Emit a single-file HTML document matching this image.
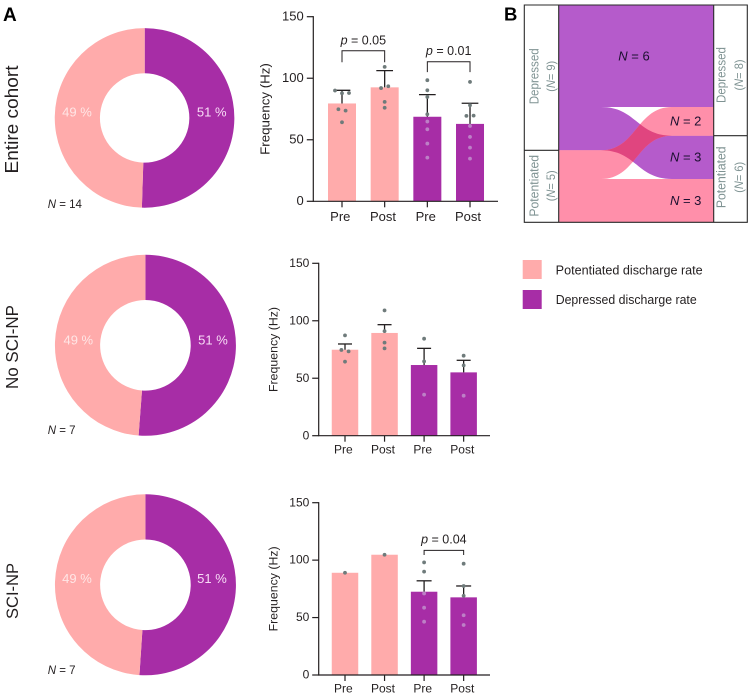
<!DOCTYPE html>
<html lang="en">
<head>
<meta charset="utf-8">
<title>Discharge rate figure</title>
<style>
html,body{margin:0;padding:0;background:#fff;width:750px;height:695px;overflow:hidden}
svg{display:block;font-family:"Liberation Sans",sans-serif;fill:#231f20}
</style>
</head>
<body>
<svg id="figure" xmlns="http://www.w3.org/2000/svg" width="750" height="695" viewBox="0 0 750 695">
  <rect x="0" y="0" width="750" height="695" fill="#fff"/>
  <text x="3" y="21" font-size="19" font-weight="bold" fill="#000">A</text>
  <text x="504" y="20.7" font-size="18.5" font-weight="bold" fill="#000">B</text>
  <text transform="translate(18 173.5) rotate(-90)" font-size="18.5" textLength="108" lengthAdjust="spacingAndGlyphs">Entire cohort</text>
  <text transform="translate(18 389) rotate(-90)" font-size="17.5" textLength="84" lengthAdjust="spacingAndGlyphs">No SCI-NP</text>
  <text transform="translate(18 619) rotate(-90)" font-size="17" textLength="56" lengthAdjust="spacingAndGlyphs">SCI-NP</text>
  <g id="donuts"></g>
  <g id="bars"></g>
  <g id="sankey"></g>
  <g>
    <rect x="522.7" y="260" width="19" height="19" fill="#ffabab"/>
    <text x="555.7" y="274.3" font-size="12.5" textLength="147" lengthAdjust="spacingAndGlyphs">Potentiated discharge rate</text>
    <rect x="522.7" y="290" width="19" height="19" fill="#a72da6"/>
    <text x="555.7" y="304" font-size="12.5" textLength="141" lengthAdjust="spacingAndGlyphs">Depressed discharge rate</text>
  </g>
</svg>
<script>
// ---- Donut data ----
const donutDepressedShare = [50.5, 51.2, 51.05];
const donutPrintedPotentiated = ['49 %', '49 %', '49 %'];
const donutPrintedDepressed = ['51 %', '51 %', '51 %'];
const donutSampleSizes = [14, 7, 7];

// ---- Bar chart data ----
const barCategories = ['Pre', 'Post', 'Pre', 'Post'];
const frequencyTicks = [0, 50, 100, 150];

const cohortMeans = [79.5, 92.6, 68.7, 62.9];
const cohortErrorTops = [90.2, 106.2, 86.7, 79.7];
const cohortPoints = [
  [90, 87.8, 88, 74.8, 73.7, 64.2],
  [109.2, 92, 93.5, 80.8, 76],
  [98.4, 90.2, 84.8, 70.7, 64.8, 58.5, 46.9, 35.5],
  [97, 78, 69.4, 69.6, 61.2, 52.3, 43.6, 34.7]
];
const cohortBracketFrom = [0, 2];
const cohortBracketTo = [1, 3];
const cohortBracketTop = [122.3, 113.4];
const cohortBracketEnd = [113, 105];
const cohortBracketLabels = ['0.05', '0.01'];

const noSciMeans = [74.8, 89.4, 61.5, 55.1];
const noSciErrorTops = [79.8, 96.6, 76, 65.6];
const noSciPoints = [
  [87.3, 74.6, 73.4, 64.4],
  [109, 91, 81, 76],
  [84.4, 64.7, 35.7],
  [69.6, 61.2, 34.8]
];
const noSciBracketFrom = [];
const noSciBracketTo = [];
const noSciBracketTop = [];
const noSciBracketEnd = [];
const noSciBracketLabels = [];

const sciMeans = [89, 104.7, 72.5, 67.6];
const sciErrorTops = [null, null, 82, 77.5];
const sciPoints = [
  [89],
  [104.7],
  [98, 90, 71, 58.6, 46.4],
  [96.9, 77.5, 69, 52, 43.5]
];
const sciBracketFrom = [2];
const sciBracketTo = [3];
const sciBracketTop = [108.5];
const sciBracketEnd = [104.5];
const sciBracketLabels = ['0.04'];

// ---- Sankey data ----
const sankeyLeftNames = ['Depressed', 'Potentiated'];
const sankeyLeftCounts = [9, 5];
const sankeyRightNames = ['Depressed', 'Potentiated'];
const sankeyRightCounts = [8, 6];
const flowFrom = [0, 0, 1, 1];
const flowTo = [0, 1, 0, 1];
const flowCounts = [6, 3, 2, 3];
const flowDrawnWeights = [6.57, 2.79, 1.85, 2.79];

const SVGNS = 'http://www.w3.org/2000/svg';
function mk(tag, parent) {
  const e = document.createElementNS(SVGNS, tag);
  parent.appendChild(e);
  return e;
}
function setAll(e, props) {
  for (const k in props) e.setAttribute(k, props[k]);
  return e;
}
const PINK = '#ffabab', PURPLE = '#a72da6', INK = '#231f20';

// ---------- Donuts ----------
const donutFrames = [
  {cx:144.7, cy:117.9, r:89.8, hole:44.7, lp:77, ld:211.7, base:116.5, nY:208},
  {cx:145.4, cy:345.3, r:90.5, hole:45.3, lp:78.3, ld:213, base:344.5, nY:434},
  {cx:145.4, cy:584.8, r:90.5, hole:45.3, lp:77, ld:212, base:583, nY:674}
];
function ringSlice(f, a0, a1) {
  const p = (r, a) => (f.cx + r * Math.sin(a)).toFixed(2) + ' ' + (f.cy - r * Math.cos(a)).toFixed(2);
  const large = (a1 - a0) > Math.PI ? 1 : 0;
  return 'M' + p(f.r, a0) + 'A' + f.r + ' ' + f.r + ' 0 ' + large + ' 1 ' + p(f.r, a1) +
         'L' + p(f.hole, a1) + 'A' + f.hole + ' ' + f.hole + ' 0 ' + large + ' 0 ' + p(f.hole, a0) + 'Z';
}
const donutRoot = document.getElementById('donuts');
donutDepressedShare.forEach(function (share, i) {
  const f = donutFrames[i];
  const split = 2 * Math.PI * share / 100;
  const dep = mk('path', donutRoot);
  
  
  setAll(dep, {d: ringSlice(f, 0, split), fill: PURPLE});
  const pot = mk('path', donutRoot);
  
  
  setAll(pot, {d: ringSlice(f, split, 2 * Math.PI), fill: PINK});
  const t1 = mk('text', donutRoot);
  
  
  setAll(t1, {x: f.lp, y: f.base, 'text-anchor': 'middle', 'font-size': 13, fill: '#ffe6e6'});
  t1.textContent = donutPrintedPotentiated[i];
  const t2 = mk('text', donutRoot);
  
  
  setAll(t2, {x: f.ld, y: f.base, 'text-anchor': 'middle', 'font-size': 13, fill: '#f8dcf6'});
  t2.textContent = donutPrintedDepressed[i];
  const n = mk('text', donutRoot);
  
  
  setAll(n, {x: 47.7, y: f.nY, 'font-size': 11.5});
  const ni = mk('tspan', n);
  ni.setAttribute('font-style', 'italic');
  ni.textContent = 'N';
  const nv = mk('tspan', n);
  nv.textContent = ' = ' + donutSampleSizes[i];
});

// ---------- Bar charts ----------
const barFrames = [
  {axisX:313.3, top:16.7, zero:201.3, right:498, first:342, step:42.67, width:28, cap:16.7, tickSize:13, labelRight:303.7,
   catX:[340.3,383,425.7,468], catY:221, titleX:269.5, titleLen:91.7, titleSize:13.3, pGap:6.5,
   means:cohortMeans, errs:cohortErrorTops, pts:cohortPoints,
   bf:cohortBracketFrom, bt:cohortBracketTo, btop:cohortBracketTop, bend:cohortBracketEnd, blab:cohortBracketLabels},
  {axisX:318.7, top:263.3, zero:435.7, right:490, first:345, step:39.55, width:26.5, cap:14, tickSize:12, labelRight:309.3,
   catX:[343.3,383,422.7,462.3], catY:453.3, titleX:277.5, titleLen:85, titleSize:12.3, pGap:6.5,
   means:noSciMeans, errs:noSciErrorTops, pts:noSciPoints,
   bf:noSciBracketFrom, bt:noSciBracketTo, btop:noSciBracketTop, bend:noSciBracketEnd, blab:noSciBracketLabels},
  {axisX:318.7, top:502.7, zero:675, right:490, first:345, step:39.55, width:26.5, cap:15, tickSize:12, labelRight:309.3,
   catX:[343.3,383,422.7,462.3], catY:692.3, titleX:277.5, titleLen:85, titleSize:12.3, pGap:7,
   means:sciMeans, errs:sciErrorTops, pts:sciPoints,
   bf:sciBracketFrom, bt:sciBracketTo, btop:sciBracketTop, bend:sciBracketEnd, blab:sciBracketLabels}
];
function swarmOffsets(vals) {
  // Values close to each other sit side by side, as in a scatter dot plot.
  const off = vals.map(function () { return 0; });
  const used = vals.map(function () { return false; });
  vals.forEach(function (v, i) {
    if (used[i]) return;
    const group = [i];
    used[i] = true;
    vals.forEach(function (w, j) {
      if (!used[j] && group.some(function (g) { return Math.abs(vals[g] - w) < 2.5; })) {
        group.push(j);
        used[j] = true;
      }
    });
    const gap = group.length === 2 ? 7.2 : 7;
    group.forEach(function (g, k) { off[g] = (k - (group.length - 1) / 2) * gap; });
  });
  return off;
}
const barRoot = document.getElementById('bars');
barFrames.forEach(function (c) {
  const y = function (v) { return c.zero - (c.zero - c.top) * v / 150; };
  const x = function (i) { return c.first + i * c.step; };
  const g = mk('g', barRoot);
  
  

  c.means.forEach(function (m, i) {
    const b = mk('rect', g);
    
    
    setAll(b, {x: x(i) - c.width / 2, y: y(m), width: c.width, height: c.zero - y(m), fill: i < 2 ? PINK : PURPLE});
  });
  c.errs.forEach(function (e, i) {
    if (e === null) return;
    const stem = mk('line', g);
    
    
    setAll(stem, {x1: x(i), x2: x(i), y1: y(c.means[i]), y2: y(e), stroke: INK, 'stroke-width': 1.3});
    const cap = mk('line', g);
    
    
    setAll(cap, {x1: x(i) - c.cap / 2, x2: x(i) + c.cap / 2, y1: y(e), y2: y(e), stroke: INK, 'stroke-width': 1.3});
  });
  c.pts.forEach(function (vals, i) {
    const off = swarmOffsets(vals);
    vals.forEach(function (v, k) {
      const inside = i >= 2 && v < c.means[i] - 1;
      const d = mk('circle', g);
      
      
      setAll(d, {cx: x(i) + off[k], cy: y(v), r: 1.9, fill: inside ? '#bd80c6' : '#6f7b7b'});
    });
  });

  const yAxis = mk('line', g);
  
  
  setAll(yAxis, {x1: c.axisX, x2: c.axisX, y1: c.top - 0.6, y2: c.zero + 0.6, stroke: INK, 'stroke-width': 1.2});
  const xAxis = mk('line', g);
  
  
  setAll(xAxis, {x1: c.axisX, x2: c.right, y1: c.zero, y2: c.zero, stroke: INK, 'stroke-width': 1.2});

  frequencyTicks.forEach(function (t) {
    const tk = mk('line', g);
    
    
    setAll(tk, {x1: c.axisX - 6.5, x2: c.axisX, y1: y(t), y2: y(t), stroke: INK, 'stroke-width': 1.2});
    const lb = mk('text', g);
    
    
    setAll(lb, {x: c.labelRight, y: y(t) + c.tickSize * 0.3, 'text-anchor': 'end', 'font-size': c.tickSize});
    lb.textContent = t;
  });
  barCategories.forEach(function (name, i) {
    const tk = mk('line', g);
    
    
    setAll(tk, {x1: x(i), x2: x(i), y1: c.zero, y2: c.zero + 6, stroke: INK, 'stroke-width': 1.2});
    const lb = mk('text', g);
    
    
    setAll(lb, {x: c.catX[i], y: c.catY, 'text-anchor': 'middle', 'font-size': c.tickSize});
    lb.textContent = name;
  });

  const title = mk('text', g);
  
  
  setAll(title, {
    transform: 'translate(' + c.titleX + ' ' + ((c.top + c.zero) / 2) + ') rotate(-90)',
    'text-anchor': 'middle', 'font-size': c.titleSize, textLength: c.titleLen, lengthAdjust: 'spacingAndGlyphs'
  });
  title.textContent = 'Frequency (Hz)';

  c.blab.forEach(function (label, k) {
    const x0 = x(c.bf[k]), x1 = x(c.bt[k]) , yt = y(c.btop[k]), ye = y(c.bend[k]);
    const br = mk('path', g);
    
    
    setAll(br, {d: 'M' + x0 + ' ' + ye + 'V' + yt + 'H' + x1 + 'V' + ye, fill: 'none', stroke: INK, 'stroke-width': 1});
    const pt = mk('text', g);
    
    
    setAll(pt, {x: (x0 + x1) / 2, y: yt - c.pGap, 'text-anchor': 'middle', 'font-size': 12.5});
    const pi = mk('tspan', pt);
    pi.setAttribute('font-style', 'italic');
    pi.textContent = 'p';
    const pv = mk('tspan', pt);
    pv.textContent = ' = ' + label;
  });
});

// ---------- Sankey ----------
(function () {
  const root = document.getElementById('sankey');
  const outerL = 524.3, innerL = 558.7, innerR = 713.7, outerR = 747.3, top = 5, bottom = 222.3;
  const bendStart = 601, bendEnd = 672;
  const total = flowDrawnWeights.reduce(function (a, b) { return a + b; }, 0);
  const unit = (bottom - top) / total;

  const leftPos = [], rightPos = [];
  let run = top;
  flowFrom.forEach(function (f, i) {
    leftPos[i] = {a: run, b: run + flowDrawnWeights[i] * unit};
    run = leftPos[i].b;
  });
  run = top;
  flowFrom.map(function (_, i) { return i; })
    .sort(function (p, q) { return flowTo[p] - flowTo[q] || flowFrom[p] - flowFrom[q]; })
    .forEach(function (i) {
      rightPos[i] = {a: run, b: run + flowDrawnWeights[i] * unit};
      run = rightPos[i].b;
    });

  const nodeEdge = function (pos, keys, node) {
    let last = top;
    keys.forEach(function (k, i) { if (k === node) last = pos[i].b; });
    return last;
  };
  const leftSplit = nodeEdge(leftPos, flowFrom, 0);
  const rightSplit = nodeEdge(rightPos, flowTo, 0);

  const mid = (bendStart + bendEnd) / 2;
  const ribbon = function (i) {
    const L = leftPos[i], R = rightPos[i];
    return 'M' + innerL + ' ' + L.a + 'H' + bendStart +
      'C' + mid + ' ' + L.a + ' ' + mid + ' ' + R.a + ' ' + bendEnd + ' ' + R.a + 'H' + innerR +
      'V' + R.b + 'H' + bendEnd +
      'C' + mid + ' ' + R.b + ' ' + mid + ' ' + L.b + ' ' + bendStart + ' ' + L.b + 'H' + innerL + 'Z';
  };

  flowCounts.forEach(function (n, i) {
    const p = mk('path', root);
    
    
    setAll(p, {d: ribbon(i), fill: flowFrom[i] === 0 ? '#b55bcb' : '#ff8faa'});
  });

  const crossA = flowFrom.findIndex(function (f, i) { return f === 0 && flowTo[i] === 1; });
  const crossB = flowFrom.findIndex(function (f, i) { return f === 1 && flowTo[i] === 0; });
  const defs = mk('defs', root);
  const clip = mk('clipPath', defs);
  clip.setAttribute('id', 'cross-clip');
  const clipPath = mk('path', clip);
  clipPath.setAttribute('d', ribbon(crossA));
  const overlap = mk('path', root);
  
  
  setAll(overlap, {d: ribbon(crossB), fill: '#e0457f', 'clip-path': 'url(#cross-clip)'});

  const frame = mk('path', root);
  
  
  setAll(frame, {
    d: 'M' + outerL + ' ' + top + 'H' + outerR + 'V' + bottom + 'H' + outerL + 'Z' +
       'M' + innerL + ' ' + top + 'V' + bottom + 'M' + innerR + ' ' + top + 'V' + bottom +
       'M' + outerL + ' ' + leftSplit + 'H' + innerL + 'M' + innerR + ' ' + rightSplit + 'H' + outerR,
    fill: 'none', stroke: '#2a2a2a', 'stroke-width': 1.1
  });

  flowCounts.forEach(function (n, i) {
    const t = mk('text', root);
    
    
    const isStraight = leftPos[i].a === rightPos[i].a;
    const cy = (rightPos[i].a + rightPos[i].b) / 2;
    setAll(t, {x: isStraight ? 634 : 685.7, y: cy + 4.4, 'text-anchor': 'middle', 'font-size': 13, fill: '#1c1030'});
    const ni = mk('tspan', t);
    ni.setAttribute('font-style', 'italic');
    ni.textContent = 'N';
    const nv = mk('tspan', t);
    nv.textContent = ' = ' + n;
  });

  const nodeLabel = function (name, count, baseName, baseCount, cy) {
    const nameLen = name === 'Depressed' ? 56 : 61.7;
    const a = mk('text', root);
    
    
    setAll(a, {
      transform: 'translate(' + baseName + ' ' + cy + ') rotate(-90)', 'text-anchor': 'middle',
      'font-size': 12.5, fill: '#7f9393', textLength: nameLen, lengthAdjust: 'spacingAndGlyphs'
    });
    a.textContent = name;
    const b = mk('text', root);
    
    
    setAll(b, {
      transform: 'translate(' + baseCount + ' ' + cy + ') rotate(-90)', 'text-anchor': 'middle',
      'font-size': 12, fill: '#7f9393', textLength: 31, lengthAdjust: 'spacingAndGlyphs'
    });
    const o = mk('tspan', b);
    o.textContent = '(';
    const it = mk('tspan', b);
    it.setAttribute('font-style', 'italic');
    it.textContent = 'N';
    const c = mk('tspan', b);
    c.textContent = '= ' + count + ')';
  };
  nodeLabel(sankeyLeftNames[0], sankeyLeftCounts[0], 538.7, 555, 76.3);
  nodeLabel(sankeyLeftNames[1], sankeyLeftCounts[1], 538.7, 555, 185.8);
  nodeLabel(sankeyRightNames[0], sankeyRightCounts[0], 725.7, 743, 75);
  nodeLabel(sankeyRightNames[1], sankeyRightCounts[1], 725.7, 743, 177.3);
})();
</script>
</body>
</html>
